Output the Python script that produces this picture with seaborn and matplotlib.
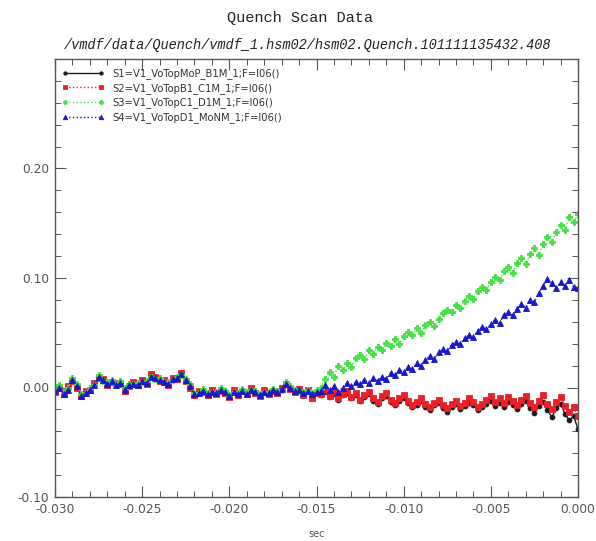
import numpy as np
import pandas as pd
import matplotlib
matplotlib.use("Agg")
import matplotlib.pyplot as plt
import seaborn as sns
from matplotlib.ticker import MultipleLocator, FormatStrFormatter

# ---------------- data ----------------
x_start = -0.030
x_step = 0.00025
n_points = 121
x_sec = np.round(x_start + np.arange(n_points) * x_step, 5)

s1_black = [
    -0.002, 0.001, -0.005, -0.001, 0.008, 0.002, -0.007, -0.004, -0.001, 0.003,
    0.010, 0.007, 0.004, 0.006, 0.003, 0.005, -0.001, 0.002, 0.004, 0.003,
    0.006, 0.005, 0.011, 0.009, 0.008, 0.006, 0.004, 0.008, 0.009, 0.012,
    0.007, 0.002, -0.006, -0.004, -0.002, -0.006, -0.003, -0.005, -0.001, -0.004,
    -0.008, -0.003, -0.006, -0.002, -0.005, -0.001, -0.004, -0.007, -0.003, -0.005,
    -0.002, -0.004, -0.001, 0.004, 0.000, -0.003, -0.002, -0.005, -0.003, -0.006,
    -0.004,
    -0.007, -0.004, -0.009, -0.006, -0.011, -0.007, -0.005, -0.010, -0.007, -0.012,
    -0.009, -0.006, -0.012, -0.015, -0.010, -0.008, -0.013, -0.016, -0.012, -0.010,
    -0.014, -0.018, -0.016, -0.012, -0.018, -0.021, -0.016, -0.014, -0.019, -0.022,
    -0.018, -0.015, -0.020, -0.017, -0.014, -0.016, -0.021, -0.018, -0.015, -0.012,
    -0.017, -0.014, -0.018, -0.013, -0.016, -0.020, -0.015, -0.012, -0.019, -0.023,
    -0.017, -0.013, -0.021, -0.027, -0.019, -0.015, -0.024, -0.030, -0.026, -0.038,
]

s2_red = [
    -0.004, 0.000, -0.006, 0.001, 0.006, 0.000, -0.008, -0.003, -0.002, 0.004,
    0.009, 0.008, 0.002, 0.005, 0.004, 0.003, -0.003, 0.001, 0.005, 0.002,
    0.007, 0.003, 0.012, 0.010, 0.006, 0.007, 0.002, 0.009, 0.008, 0.013,
    0.006, 0.000, -0.007, -0.003, -0.004, -0.007, -0.002, -0.006, -0.003, -0.005,
    -0.009, -0.002, -0.007, -0.003, -0.006, 0.000, -0.005, -0.008, -0.002, -0.006,
    -0.003, -0.005, 0.000, 0.003, -0.001, -0.004, -0.001, -0.007, -0.002, -0.010,
    -0.005,
    -0.006, -0.002, -0.008, -0.004, -0.010, -0.006, -0.003, -0.009, -0.005, -0.011,
    -0.007, -0.004, -0.010, -0.013, -0.008, -0.005, -0.011, -0.014, -0.010, -0.007,
    -0.012, -0.016, -0.013, -0.010, -0.015, -0.018, -0.014, -0.011, -0.016, -0.019,
    -0.015, -0.012, -0.017, -0.014, -0.010, -0.013, -0.018, -0.015, -0.011, -0.008,
    -0.013, -0.010, -0.014, -0.009, -0.012, -0.016, -0.011, -0.008, -0.014, -0.018,
    -0.012, -0.007, -0.015, -0.020, -0.013, -0.009, -0.017, -0.022, -0.018, -0.026,
]

s3_green = [
    -0.001, 0.002, -0.004, 0.000, 0.009, 0.003, -0.006, -0.005, 0.000, 0.002,
    0.011, 0.006, 0.005, 0.007, 0.002, 0.006, 0.000, 0.003, 0.003, 0.004,
    0.005, 0.006, 0.010, 0.008, 0.009, 0.005, 0.005, 0.007, 0.010, 0.011,
    0.008, 0.003, -0.005, -0.005, -0.001, -0.005, -0.004, -0.004, 0.000, -0.003,
    -0.007, -0.004, -0.005, -0.001, -0.004, -0.002, -0.003, -0.006, -0.004, -0.004,
    -0.001, -0.003, -0.002, 0.005, 0.001, -0.002, -0.003, -0.004, -0.002, -0.005,
    -0.002,
    0.000, 0.008, 0.014, 0.010, 0.020, 0.016, 0.022, 0.019, 0.027, 0.030,
    0.026, 0.034, 0.031, 0.037, 0.034, 0.041, 0.038, 0.044, 0.040, 0.047,
    0.051, 0.048, 0.054, 0.050, 0.057, 0.060, 0.056, 0.063, 0.068, 0.071,
    0.069, 0.075, 0.073, 0.079, 0.084, 0.081, 0.088, 0.092, 0.089, 0.096,
    0.101, 0.098, 0.106, 0.110, 0.105, 0.114, 0.118, 0.113, 0.122, 0.127,
    0.121, 0.131, 0.137, 0.133, 0.142, 0.148, 0.144, 0.156, 0.151, 0.158,
]

s4_blue = [
    -0.003, 0.000, -0.006, -0.002, 0.007, 0.001, -0.008, -0.005, -0.002, 0.002,
    0.010, 0.007, 0.003, 0.006, 0.002, 0.004, -0.002, 0.002, 0.003, 0.002,
    0.006, 0.004, 0.010, 0.009, 0.007, 0.005, 0.003, 0.008, 0.009, 0.012,
    0.007, 0.001, -0.006, -0.005, -0.003, -0.006, -0.004, -0.005, -0.002, -0.004,
    -0.008, -0.004, -0.006, -0.003, -0.006, -0.002, -0.004, -0.007, -0.004, -0.005,
    -0.002, -0.004, -0.001, 0.003, 0.000, -0.003, -0.002, -0.005, -0.003, -0.006,
    -0.004,
    -0.003, 0.002, -0.002, 0.001, -0.004, 0.000, 0.004, 0.001, 0.005, 0.003,
    0.007, 0.004, 0.009, 0.006, 0.010, 0.008, 0.013, 0.011, 0.016, 0.014,
    0.019, 0.017, 0.022, 0.020, 0.025, 0.029, 0.026, 0.032, 0.035, 0.033,
    0.039, 0.042, 0.040, 0.045, 0.048, 0.046, 0.052, 0.055, 0.053, 0.058,
    0.062, 0.059, 0.066, 0.069, 0.066, 0.072, 0.076, 0.073, 0.080, 0.078,
    0.086, 0.093, 0.099, 0.095, 0.091, 0.096, 0.093, 0.098, 0.092, 0.091,
]

labels = [
    "S1=V1_VoTopMoP_B1M_1;F=I06()",
    "S2=V1_VoTopB1_C1M_1;F=I06()",
    "S3=V1_VoTopC1_D1M_1;F=I06()",
    "S4=V1_VoTopD1_MoNM_1;F=I06()",
]

title_text = "Quench Scan Data"
subtitle_text = "/vmdf/data/Quench/vmdf_1.hsm02/hsm02.Quench.101111135432.408"
xlabel_text = "sec"

# ---------------- plot ----------------
sns.set_theme(style="ticks")
plt.rcParams["font.family"] = ["DejaVu Sans"]
plt.rcParams["axes.unicode_minus"] = False

fig = plt.figure(figsize=(5.96, 5.41), dpi=100)
ax = fig.add_axes([55 / 596, 44 / 541, 523 / 596, 438 / 541])

series = [s1_black, s2_red, s3_green, s4_blue]
colors = ["#1a1a1a", "#e82028", "#44e044", "#1818c8"]
markers = ["o", "s", "P", "^"]
linestyles = ["-", ":", ":", ":"]
sizes = [3.5, 4.5, 4.5, 4.5]

for vals, lab, c, m, ls, ms in zip(series, labels, colors, markers, linestyles, sizes):
    df = pd.DataFrame({"sec": x_sec, "val": vals})
    sns.lineplot(data=df, x="sec", y="val", ax=ax, color=c, marker=m,
                 linestyle=ls, linewidth=1.0, markersize=ms,
                 markeredgewidth=0.6, markeredgecolor=c,
                 estimator=None, label=lab, sort=False)

ax.set_xlim(-0.030, 0.000)
ax.set_ylim(-0.10, 0.30)
ax.set_yticks([-0.10, 0.00, 0.10, 0.20])
ax.yaxis.set_minor_locator(MultipleLocator(0.02))
ax.xaxis.set_major_locator(MultipleLocator(0.005))
ax.xaxis.set_minor_locator(MultipleLocator(0.001))
ax.xaxis.set_major_formatter(FormatStrFormatter("%.3f"))
ax.yaxis.set_major_formatter(FormatStrFormatter("%.2f"))

ax.tick_params(which="both", direction="in", top=True, right=True,
               colors="#555555", labelcolor="#555555", labelsize=8.8)
ax.tick_params(which="major", length=8, width=0.8, pad=4)
ax.tick_params(which="minor", length=4, width=0.7)
for sp in ax.spines.values():
    sp.set_color("#555555")
    sp.set_linewidth(1.0)
    sp.set_visible(True)

ax.set_xlabel(xlabel_text, fontsize=7, color="#555555", labelpad=10)
ax.set_ylabel("")

leg = ax.legend(loc="upper left", frameon=False, fontsize=7.2, numpoints=2,
                handlelength=4.2, handletextpad=0.8, labelspacing=0.38,
                borderaxespad=0.3, borderpad=0.6, markerscale=0.7,
                bbox_to_anchor=(-0.004, 1.0))
for t in leg.get_texts():
    t.set_color("#333333")

fig.text(0.503, 0.966, title_text, ha="center", va="center",
         fontsize=11, family=["Liberation Mono", "DejaVu Sans Mono"],
         color="#222222")
fig.text(0.516, 0.917, subtitle_text, ha="center", va="center",
         fontsize=9.8, family=["Liberation Mono", "DejaVu Sans Mono"],
         style="italic", color="#222222")

fig.savefig("out.png", dpi=100)
